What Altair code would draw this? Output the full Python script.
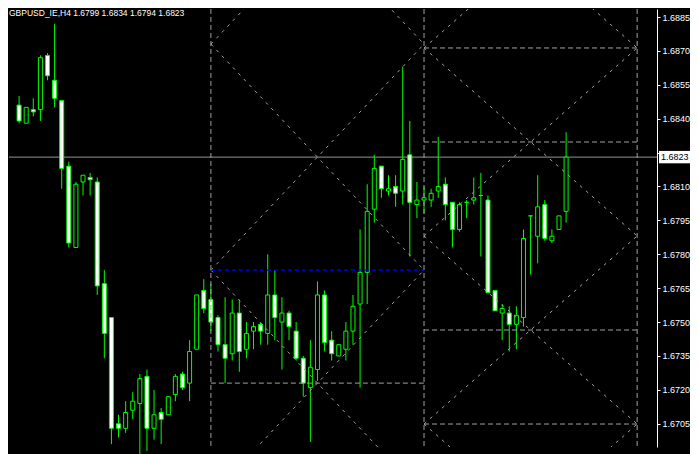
import altair as alt
import pandas as pd

# ---- candle data (GBPUSD H4) ----
opens = [1.6846, 1.6838, 1.6844, 1.6844, 1.6868, 1.6857, 1.6848, 1.6819, 1.6783, 1.6812,
         1.6814, 1.6812, 1.6767, 1.6752, 1.6705, 1.6703, 1.6711, 1.6714, 1.6726, 1.6703,
         1.6710, 1.6709, 1.6718, 1.6727, 1.6723, 1.6738, 1.6764, 1.6760, 1.6752, 1.6740,
         1.6736, 1.6754, 1.6738, 1.6746, 1.6749, 1.6745, 1.6762, 1.6750, 1.6754, 1.6746,
         1.6734, 1.6721, 1.6729, 1.6762, 1.6742, 1.6735, 1.6738, 1.6746, 1.6758, 1.6772,
         1.6800, 1.6819, 1.6808, 1.6810, 1.6808, 1.6824, 1.6802, 1.6804, 1.6804, 1.6808,
         1.6811, 1.6803, 1.6791, 1.6803, 1.6804, 1.6806, 1.6804, 1.6764, 1.6754, 1.6754,
         1.6749, 1.6752, 1.6797, 1.6788, 1.6802, 1.6786, 1.6791, 1.6799]
highs = [1.6850, 1.6845, 1.6849, 1.6868, 1.6869, 1.6882, 1.6848, 1.6821, 1.6812, 1.6815,
         1.6816, 1.6814, 1.6773, 1.6752, 1.6709, 1.6715, 1.6719, 1.6727, 1.6729, 1.6720,
         1.6712, 1.6717, 1.6727, 1.6728, 1.6742, 1.6762, 1.6769, 1.6767, 1.6753, 1.6761,
         1.6760, 1.6760, 1.6750, 1.6750, 1.6750, 1.6780, 1.6773, 1.6761, 1.6755, 1.6750,
         1.6735, 1.6742, 1.6768, 1.6764, 1.6746, 1.6740, 1.6750, 1.6762, 1.6791, 1.6811,
         1.6824, 1.6819, 1.6815, 1.6815, 1.6863, 1.6839, 1.6812, 1.6810, 1.6809, 1.6832,
         1.6814, 1.6803, 1.6803, 1.6804, 1.6814, 1.6816, 1.6806, 1.6764, 1.6758, 1.6757,
         1.6757, 1.6791, 1.6797, 1.6815, 1.6804, 1.6791, 1.6797, 1.6834]
lows = [1.6838, 1.6838, 1.6841, 1.6839, 1.6857, 1.6845, 1.6809, 1.6783, 1.6783, 1.6806,
        1.6806, 1.6762, 1.6734, 1.6696, 1.6699, 1.6701, 1.6707, 1.6691, 1.6693, 1.6698,
        1.6696, 1.6709, 1.6715, 1.6720, 1.6715, 1.6738, 1.6754, 1.6746, 1.6737, 1.6723,
        1.6733, 1.6728, 1.6734, 1.6738, 1.6740, 1.6740, 1.6742, 1.6729, 1.6742, 1.6733,
        1.6717, 1.6697, 1.6724, 1.6737, 1.6733, 1.6735, 1.6733, 1.6740, 1.6721, 1.6758,
        1.6794, 1.6805, 1.6806, 1.6801, 1.6802, 1.6779, 1.6796, 1.6798, 1.6801, 1.6805,
        1.6795, 1.6783, 1.6790, 1.6796, 1.6802, 1.6779, 1.6763, 1.6755, 1.6742, 1.6737,
        1.6738, 1.6748, 1.6771, 1.6776, 1.6786, 1.6785, 1.6791, 1.6794]
closes = [1.6839, 1.6845, 1.6843, 1.6867, 1.6859, 1.6849, 1.6818, 1.6785, 1.6811, 1.6815,
          1.6813, 1.6766, 1.6745, 1.6703, 1.6703, 1.6710, 1.6715, 1.6725, 1.6703, 1.6709,
          1.6707, 1.6717, 1.6726, 1.6721, 1.6737, 1.6762, 1.6756, 1.6750, 1.6740, 1.6734,
          1.6754, 1.6737, 1.6745, 1.6748, 1.6746, 1.6762, 1.6752, 1.6754, 1.6748, 1.6734,
          1.6723, 1.6730, 1.6762, 1.6741, 1.6736, 1.6740, 1.6746, 1.6757, 1.6772, 1.6799,
          1.6818, 1.6809, 1.6809, 1.6807, 1.6822, 1.6803, 1.6804, 1.6805, 1.6807, 1.6810,
          1.6802, 1.6791, 1.6802, 1.6803, 1.6805, 1.6806, 1.6763, 1.6755, 1.6756, 1.6749,
          1.6753, 1.6787, 1.6797, 1.6801, 1.6787, 1.6788, 1.6797, 1.6823]

current_price = 1.6823
title_text = "GBPUSD_IE,H4  1.6799 1.6834 1.6794 1.6823"
y_ticks = [1.6705, 1.6720, 1.6735, 1.6750, 1.6765, 1.6780, 1.6795, 1.6810,
           1.6825, 1.6840, 1.6855, 1.6870, 1.6885]
hidden_tick_label = "1.6825"  # covered by the current-price box

# Gann-style grid objects (bar index, price)
left_cols = [27, 57]
left_levels = [1.6973, 1.6873, 1.6773, 1.6673]
right_cols = [57, 87]
right_levels = [1.69545, 1.68713, 1.67881, 1.67049, 1.66217]
grid_verticals = [27, 57, 87]
gray_h_x1 = [27, 57, 57, 57, 57]
gray_h_x2 = [57, 87, 87, 87, 87]
gray_h_y = [1.6723, 1.68713, 1.68297, 1.67465, 1.67049]
blue_h_x1 = [27]
blue_h_x2 = [57]
blue_h_y = [1.6773]

# ---- tables ----
candles = pd.DataFrame({"i": list(range(len(opens))), "open": opens, "high": highs,
                        "low": lows, "close": closes})
candles["kind"] = ["bull" if c >= o else "bear" for o, c in zip(opens, closes)]

segs = []
for cols, levels in ((left_cols, left_levels), (right_cols, right_levels)):
    for a, b in zip(levels[:-1], levels[1:]):
        segs.append({"x1": cols[0], "y1": a, "x2": cols[1], "y2": b})
        segs.append({"x1": cols[0], "y1": b, "x2": cols[1], "y2": a})
diag = pd.DataFrame(segs)
gray_h = pd.DataFrame({"x1": gray_h_x1, "x2": gray_h_x2, "y": gray_h_y})
blue_h = pd.DataFrame({"x1": blue_h_x1, "x2": blue_h_x2, "y": blue_h_y})
verts = pd.DataFrame({"x": grid_verticals})
plabel = pd.DataFrame({"price": [current_price], "text": [f"{current_price:.4f}"]})
tdf = pd.DataFrame({"t": [title_text]})

W, H = 648, 438
xs = alt.Scale(domain=[-0.715, 89.09], nice=False, zero=False)
ys = alt.Scale(domain=[1.669473, 1.688854], nice=False, zero=False)
LIME = "#00ff00"
GRAY = "#a0a0a0"

yaxis = alt.Axis(orient="right", values=y_ticks, format=".4f", title=None, grid=False,
                 domainColor="#ffffff", tickColor="#ffffff", labelColor="#ffffff",
                 tickSize=3, labelPadding=2, labelFont="Liberation Sans", labelFontSize=9,
                 labelFlush=False, labelOverlap=False,
                 labelExpr=f"datum.label == '{hidden_tick_label}' ? '' : datum.label")


def Y(field):
    return alt.Y(field, scale=ys, axis=yaxis)


def X(field):
    return alt.X(field, scale=xs, axis=None)


price_line = alt.Chart(plabel).mark_rule(color="#969696", strokeWidth=1).encode(
    y=Y("price:Q"))

wicks = alt.Chart(candles).mark_rule(color=LIME, strokeWidth=1).encode(
    x=X("i:Q"), y=Y("low:Q"), y2="high:Q")

bodies = alt.Chart(candles).mark_bar(size=4, stroke=LIME, strokeWidth=1).encode(
    x=X("i:Q"), y=Y("open:Q"), y2="close:Q",
    fill=alt.Fill("kind:N", scale=alt.Scale(domain=["bull", "bear"],
                                            range=["#000000", "#ffffff"]), legend=None))

diagonals = alt.Chart(diag).mark_rule(color=GRAY, strokeWidth=1, strokeDash=[3, 5],
                                      clip=True).encode(
    x=X("x1:Q"), x2="x2:Q", y=Y("y1:Q"), y2="y2:Q")

hlines = alt.Chart(gray_h).mark_rule(color=GRAY, strokeWidth=1, strokeDash=[5, 3]).encode(
    x=X("x1:Q"), x2="x2:Q", y=Y("y:Q"))

blines = alt.Chart(blue_h).mark_rule(color="#0000ff", strokeWidth=1.3, strokeDash=[4, 3]).encode(
    x=X("x1:Q"), x2="x2:Q", y=Y("y:Q"))

vlines = alt.Chart(verts).mark_rule(color=GRAY, strokeWidth=1, strokeDash=[5, 3]).encode(
    x=X("x:Q"))

price_box = alt.Chart(plabel).mark_point(
    shape="M-1,-0.4L1,-0.4L1,0.4L-1,0.4Z", size=961, filled=True, opacity=1,
    color="#ffffff", strokeWidth=0, clip=False).encode(
    x=alt.value(W + 17.5), y=Y("price:Q"))

price_text = alt.Chart(plabel).mark_text(align="left", baseline="middle", color="#000000",
                                         font="Liberation Sans", fontSize=9).encode(
    x=alt.value(W + 4), y=Y("price:Q"), text="text:N")

title = alt.Chart(tdf).mark_text(align="left", baseline="top", color="#ffffff",
                                 font="Liberation Sans", fontSize=8.5).encode(
    x=alt.value(0), y=alt.value(0), text="t:N")

chart = alt.layer(price_line, wicks, bodies, diagonals, hlines, blines, vlines,
                  price_box, price_text, title).properties(
    width=W, height=H, padding=0, background="#000000"
).configure_view(strokeWidth=0)

chart.save("out.html", embed_options={"renderer": "svg", "actions": False})
